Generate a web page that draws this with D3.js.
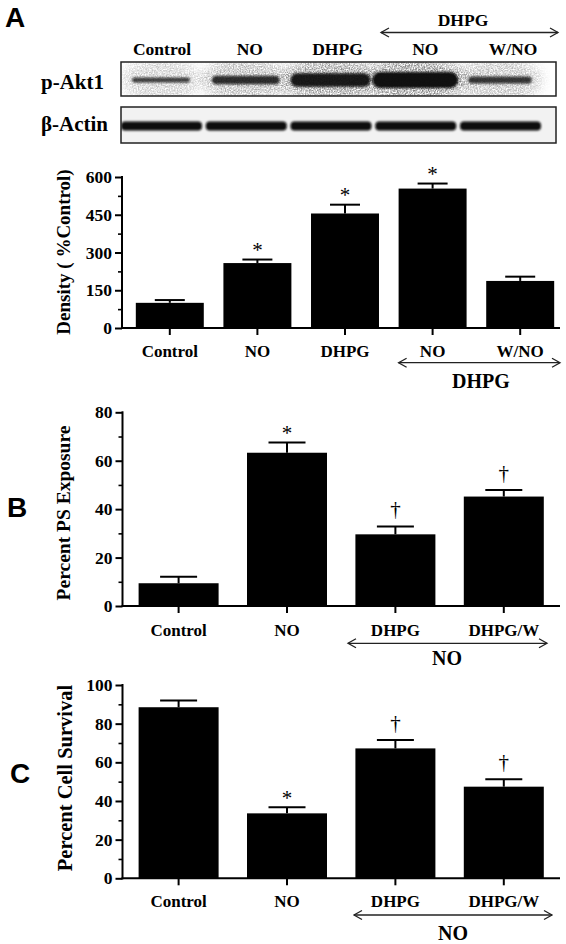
<!DOCTYPE html>
<html><head><meta charset="utf-8">
<script src="https://cdn.jsdelivr.net/npm/d3@7"></script>
<style>
body{margin:0;background:#fff}
svg{display:block}
text{font-family:"Liberation Serif","Times New Roman",serif;font-weight:bold;fill:#000}
</style>
</head><body><svg id="c" width="566" height="944"></svg>
<script>
// ---------- data ----------
const blotLanes = ["Control", "NO", "DHPG", "NO", "W/NO"];
const blotRows = ["p-Akt1", "β-Actin"];
const actinLevel = [1, 1, 1, 1, 1];

const densityCats = ["Control", "NO", "DHPG", "NO", "W/NO"];
const densityMean = [100, 258, 455, 554, 187];
const densityErr = [11, 14, 35, 20, 17];
const densityMark = ["", "*", "*", "*", ""];
const densityTicks = [0, 150, 300, 450, 600];
const densityMinor = [75, 225, 375, 525];

const treatCats = ["Control", "NO", "DHPG", "DHPG/W"];
const psMean = [9.4, 63.3, 29.6, 45.2];
const psErr = [2.7, 4.2, 3.2, 2.7];
const psMark = ["", "*", "†", "†"];
const psTicks = [0, 20, 40, 60, 80];
const psMinor = [10, 30, 50, 70];

const survMean = [88.5, 33.6, 67.2, 47.4];
const survErr = [3.5, 3.1, 4.3, 3.8];
const survMark = ["", "*", "†", "†"];
const survTicks = [0, 20, 40, 60, 80, 100];
const survMinor = [10, 30, 50, 70, 90];

// ---------- drawing ----------
const svg = d3.select("#c");
const defs = svg.append("defs");

function arrow(g, x0, x1, y) {
  g.append("line").attr("x1", x0).attr("x2", x1).attr("y1", y).attr("y2", y)
    .attr("stroke", "#222").attr("stroke-width", 1.3);
  g.append("path").attr("d", `M${x0 + 8},${y - 4.5}L${x0},${y}L${x0 + 8},${y + 4.5}M${x1 - 8},${y - 4.5}L${x1},${y}L${x1 - 8},${y + 4.5}`)
    .attr("fill", "none").attr("stroke", "#222").attr("stroke-width", 1.3);
}

// panel letters
[["A", 5, 27], ["B", 7, 517], ["C", 10, 783]].forEach(([t, x, y]) => {
  svg.append("text").attr("x", x).attr("y", y)
    .style("font-family", '"Liberation Sans",Arial,sans-serif').style("font-size", "28px").text(t);
});

// ---------- Western blot ----------
const blot = svg.append("g");
const laneLabelX = d3.scalePoint().domain(d3.range(blotLanes.length)).range([162, 513]);
const bandX = d3.scalePoint().domain(d3.range(blotLanes.length)).range([161, 500]);
const bandH = d3.scaleLinear().domain([0, 600]).range([2.5, 17]);
const bandW = d3.scaleLinear().domain([100, 554]).range([58, 86]);
const bandOp = d3.scaleLinear().domain([0, 600]).range([0.72, 1]);

blot.append("text").attr("x", 463).attr("y", 26).attr("text-anchor", "middle").style("font-size", "17.5px").text("DHPG");
arrow(blot, 381, 558, 32.5);
blot.selectAll("text.lane").data(blotLanes).join("text").attr("class", "lane")
  .attr("x", (d, i) => laneLabelX(i)).attr("y", 55).attr("text-anchor", "middle")
  .style("font-size", "17.5px").text(d => d);

const boxes = [{y: 62, h: 34}, {y: 107, h: 36}];
blotRows.forEach((r, i) => {
  blot.append("text").attr("x", 41).attr("y", i === 0 ? 89 : 131).style("font-size", "21px").text(r);
});

// filters
const fBlur = defs.append("filter").attr("id", "bb").attr("x", "-30%").attr("y", "-100%").attr("width", "160%").attr("height", "300%");
fBlur.append("feGaussianBlur").attr("stdDeviation", "1.3 1.1");
const fSp = defs.append("filter").attr("id", "speck").attr("filterUnits", "userSpaceOnUse")
  .attr("x", 121).attr("y", 62).attr("width", 435).attr("height", 34);
fSp.append("feGaussianBlur").attr("in", "SourceGraphic").attr("stdDeviation", 6).attr("result", "b");
fSp.append("feTurbulence").attr("type", "fractalNoise").attr("baseFrequency", 0.75).attr("numOctaves", 2).attr("seed", 4).attr("result", "n");
fSp.append("feColorMatrix").attr("in", "n").attr("type", "matrix")
  .attr("values", "0 0 0 0 0  0 0 0 0 0  0 0 0 0 0  2.2 0 0 0 -0.6").attr("result", "na");
fSp.append("feComposite").attr("in", "b").attr("in2", "na").attr("operator", "in");
defs.append("clipPath").attr("id", "clip1").append("rect").attr("x", 121).attr("y", 62).attr("width", 435).attr("height", 34);
defs.append("clipPath").attr("id", "clip2").append("rect").attr("x", 121).attr("y", 107).attr("width", 435).attr("height", 36);

// p-Akt1 halos + bands
const g1 = blot.append("g").attr("clip-path", "url(#clip1)");
g1.append("g").attr("filter", "url(#speck)").selectAll("ellipse").data(densityMean).join("ellipse")
  .attr("cx", (d, i) => bandX(i)).attr("cy", 80)
  .attr("rx", d => bandW(d) / 2 + 10).attr("ry", 22)
  .attr("fill", "#666").attr("opacity", d => 0.3 + d / 1000);
g1.selectAll("rect.band").data(densityMean).join("rect").attr("class", "band")
  .attr("x", (d, i) => bandX(i) - bandW(d) / 2).attr("width", d => bandW(d))
  .attr("y", d => 80 - bandH(d) / 2).attr("height", d => bandH(d))
  .attr("rx", d => bandH(d) / 2)
  .attr("fill", "#080808").attr("opacity", d => bandOp(d)).attr("filter", "url(#bb)");

// beta-actin bands
const g2 = blot.append("g").attr("clip-path", "url(#clip2)");
g2.append("rect").attr("x", 121).attr("y", 107).attr("width", 435).attr("height", 36).attr("fill", "#f2f2f2");
g2.selectAll("rect.band").data(actinLevel).join("rect").attr("class", "band")
  .attr("x", (d, i) => bandX(i) - 40).attr("width", 81)
  .attr("y", 121.5).attr("height", d => 9 * d).attr("rx", 4)
  .attr("fill", "#0b0b0b").attr("filter", "url(#bb)");

boxes.forEach(b => {
  blot.append("rect").attr("x", 121).attr("y", b.y).attr("width", 435).attr("height", b.h)
    .attr("fill", "none").attr("stroke", "#222").attr("stroke-width", 1.5);
});

// ---------- bar panels ----------
function barPanel(c) {
  const g = svg.append("g");
  const y = d3.scaleLinear().domain([0, c.max]).range([c.y0, c.y1]);
  const x = d3.scaleBand().domain(d3.range(c.cats.length)).range(c.xr)
    .paddingInner(c.pi).paddingOuter(c.pi / 2);

  g.selectAll("rect.bar").data(c.mean).join("rect").attr("class", "bar")
    .attr("x", (d, i) => x(i)).attr("width", x.bandwidth())
    .attr("y", d => y(d)).attr("height", d => y(0) - y(d)).attr("fill", "#000");
  c.mean.forEach((m, i) => {
    const cx = x(i) + x.bandwidth() / 2, top = y(m + c.err[i]);
    g.append("line").attr("x1", cx).attr("x2", cx).attr("y1", y(m)).attr("y2", top)
      .attr("stroke", "#000").attr("stroke-width", 2);
    g.append("line").attr("x1", cx - c.cap / 2).attr("x2", cx + c.cap / 2).attr("y1", top).attr("y2", top)
      .attr("stroke", "#000").attr("stroke-width", 2);
    const mk = c.mark[i];
    if (mk) {
      g.append("text").attr("x", cx).attr("y", mk === "*" ? top - 2.5 : top - 10.5)
        .attr("text-anchor", "middle").style("font-weight", "normal").style("font-size", "21px").text(mk);
    }
  });

  const ya = g.append("g").attr("transform", `translate(${c.ax},0)`)
    .call(d3.axisLeft(y).tickValues(c.ticks).tickSize(7).tickSizeOuter(0).tickPadding(3));
  ya.select(".domain").remove();
  ya.selectAll("line").attr("stroke", "#000").attr("stroke-width", 2);
  ya.selectAll("text").style("font-size", "17.5px").style("font-family", '"Liberation Serif",serif').style("font-weight", "bold");
  const ym = g.append("g").attr("transform", `translate(${c.ax},0)`)
    .call(d3.axisLeft(y).tickValues(c.minor).tickSize(4).tickFormat(""));
  ym.select(".domain").remove();
  ym.selectAll("line").attr("stroke", "#000").attr("stroke-width", 1.6);
  g.append("line").attr("x1", c.ax).attr("x2", c.ax).attr("y1", c.y0 + 1).attr("y2", c.y1 - 1)
    .attr("stroke", "#000").attr("stroke-width", 2);

  const xa = g.append("g").attr("transform", `translate(0,${c.y0})`)
    .call(d3.axisBottom(x).tickSize(7).tickSizeOuter(0).tickFormat(i => c.cats[i]));
  xa.select(".domain").remove();
  xa.selectAll("line").attr("stroke", "#000").attr("stroke-width", 2);
  xa.selectAll("text").attr("y", c.lb - c.y0).attr("dy", 0)
    .style("font-size", "17px").style("font-family", '"Liberation Serif",serif').style("font-weight", "bold");
  g.append("line").attr("x1", c.ax - 1).attr("x2", c.axEnd).attr("y1", c.y0).attr("y2", c.y0)
    .attr("stroke", "#000").attr("stroke-width", 2);

  g.append("text").attr("transform", `translate(${c.ylx},${c.yly}) rotate(-90)`)
    .attr("text-anchor", "middle").style("font-size", c.ylfs + "px").text(c.ylabel);

  arrow(g, c.arr[0], c.arr[1], c.arr[2]);
  g.append("text").attr("x", c.grp[1]).attr("y", c.grp[2]).attr("text-anchor", "middle")
    .style("font-size", "20px").text(c.grp[0]);
}

barPanel({
  cats: densityCats, mean: densityMean, err: densityErr, mark: densityMark,
  max: 600, y0: 328, y1: 177, ticks: densityTicks, minor: densityMinor,
  xr: [126, 564], pi: 0.224, ax: 122, axEnd: 560, cap: 30, lb: 357,
  ylabel: "Density ( %Control)", ylx: 70, yly: 252, ylfs: 19,
  arr: [398.6, 560, 362.7], grp: ["DHPG", 481, 388]
});
barPanel({
  cats: treatCats, mean: psMean, err: psErr, mark: psMark,
  max: 80, y0: 606, y1: 412.3, ticks: psTicks, minor: psMinor,
  xr: [124.4, 558], pi: 0.262, ax: 122.5, axEnd: 560, cap: 37, lb: 636,
  ylabel: "Percent PS Exposure", ylx: 70, yly: 513, ylfs: 19.5,
  arr: [348, 547, 643.3], grp: ["NO", 447, 665]
});
barPanel({
  cats: treatCats, mean: survMean, err: survErr, mark: survMark,
  max: 100, y0: 878.3, y1: 685, ticks: survTicks, minor: survMinor,
  xr: [124.4, 558], pi: 0.262, ax: 122.5, axEnd: 560, cap: 37, lb: 907,
  ylabel: "Percent Cell Survival", ylx: 72, yly: 778, ylfs: 20.5,
  arr: [354, 552, 915], grp: ["NO", 453, 940]
});
</script>
</body></html>
